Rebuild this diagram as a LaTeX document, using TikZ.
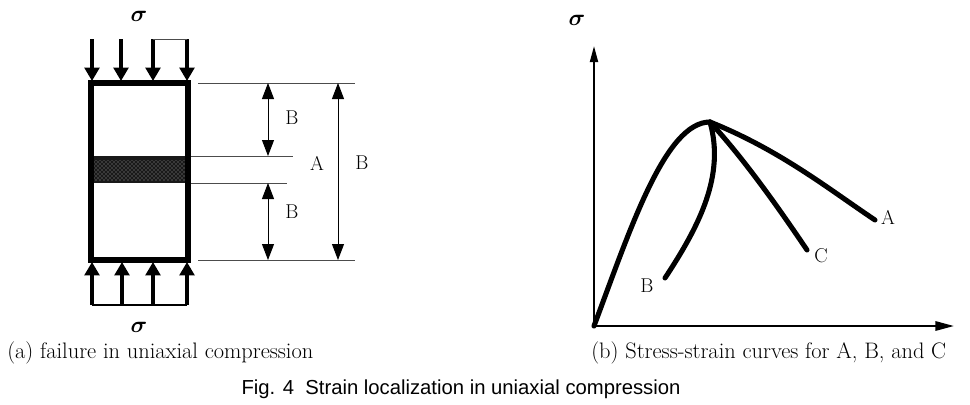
\documentclass[tikz,border=0pt]{standalone}
\usepackage{amsmath}
\usepackage{bm}
\usepackage{fontspec}
\newfontfamily\capfont{Liberation Sans}
\usetikzlibrary{arrows.meta,patterns,positioning}

\begin{document}
\begin{tikzpicture}[x=0.75pt,y=-0.75pt,font=\fontsize{15}{17}\selectfont,
  load/.style={line width=2.4pt,-{Triangle[width=11pt,length=10pt]}},
  dimline/.style={line width=0.7pt,{Triangle[width=9pt,length=12pt]}-{Triangle[width=9pt,length=12pt]}},
  extline/.style={line width=0.5pt,black!70},
  curve/.style={line width=3.8pt,line cap=round},
  lbl/.style={inner sep=0pt},
  subcap/.style={inner sep=0pt,anchor=west,font=\fontsize{16.8}{19}\selectfont},
  sig/.style={inner sep=0pt,font=\fontsize{18}{20}\selectfont}]

\useasboundingbox (0,0) rectangle (970,404);

% ==================== (a) specimen ====================
\begin{scope}
  % band
  \fill[black!90] (91,156) rectangle (188,183);
  \fill[pattern=crosshatch dots,pattern color=black!35] (94,160) rectangle (185,180);
  % specimen
  \draw[line width=4.6pt] (91,83) rectangle (188,260);

  % loads top
  \foreach \x in {92,121,153,187}
    \draw[load] (\x,39) -- (\x,81);
  \draw[line width=0.5pt,black!70] (153,39) -- (187,39);
  \node[sig] (stop) at (139,16) {$\bm{\sigma}$};

  % loads bottom
  \foreach \x in {92,122,153,187}
    \draw[load] (\x,305) -- (\x,262);
  \draw[line width=1.5pt] (92,305) -- (187,305);
  \node[sig] (sbot) at (139,327) {$\bm{\sigma}$};

  % extension lines
  \coordinate (t1) at (198,83);   \coordinate (t2) at (355,83);
  \coordinate (m1) at (191,156);  \coordinate (m2) at (293,156);
  \coordinate (n1) at (191,183);  \coordinate (n2) at (287,183);
  \coordinate (b1) at (198,260);  \coordinate (b2) at (355,260);
  \draw[extline] (t1) -- (t2);
  \draw[extline] (m1) -- (m2);
  \draw[extline] (n1) -- (n2);
  \draw[extline] (b1) -- (b2);

  % dimensions
  \coordinate (d1) at (268,83);  \coordinate (d2) at (268,156);
  \coordinate (d3) at (268,183); \coordinate (d4) at (268,260);
  \coordinate (e1) at (338,83);  \coordinate (e2) at (338,260);
  \draw[dimline] (d1) -- (d2);
  \draw[dimline] (d3) -- (d4);
  \draw[dimline] (e1) -- (e2);
  \node[lbl] (labB1) at (292,118) {B};
  \node[lbl] (labA)  at (317,163) {A};
  \node[lbl] (labB2) at (362,163) {B};
  \node[lbl] (labB3) at (292,212) {B};

  \node[subcap] (capa) at (7,353) {(a) failure in uniaxial compression};
\end{scope}

% ==================== (b) stress-strain ====================
\begin{scope}
  \coordinate (O) at (594,326);
  \draw[line width=1.4pt,-{Triangle[width=6pt,length=12pt]}] (O) -- (594,46) coordinate (ytip);
  \draw[line width=1.6pt,-{Triangle[width=7pt,length=14pt]}] (O) -- (954,326) coordinate (xtip);
  \node[sig] (sig) at (577,20) {$\bm{\sigma}$};

  \coordinate (P) at (710,122);
  \draw[curve] (O) .. controls (630,230) and (665,122) .. (P);
  \draw[curve] (P) .. controls (725,175) and (700,225) .. (665,278) coordinate (endB);
  \draw[curve] (P) .. controls (745,160) and (780,210) .. (807,250) coordinate (endC);
  \draw[curve] (P) .. controls (780,150) and (830,190) .. (875,220) coordinate (endA);

  \node[lbl] (cA) at (888,217) {A};
  \node[lbl] (cB) at (647,286) {B};
  \node[lbl] (cC) at (821,256) {C};

  \node[subcap] (capb) at (591,353) {(b) Stress-strain curves for A, B, and C};
\end{scope}

% caption
\node[lbl] (fig) at (461,389) {\capfont\fontsize{15.2}{17}\selectfont Fig. 4\ \ Strain localization in uniaxial compression};

\end{tikzpicture}
\end{document}
